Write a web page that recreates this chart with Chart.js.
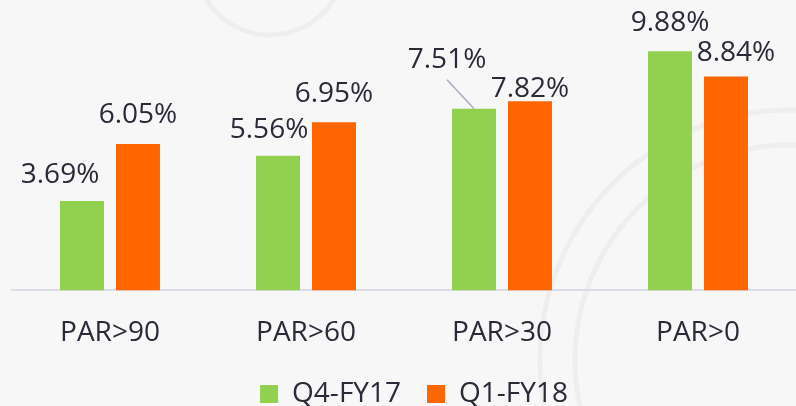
<!DOCTYPE html>
<html>
<head>
<meta charset="utf-8">
<script src="https://cdn.jsdelivr.net/npm/chart.js@4.4.1/dist/chart.umd.min.js"></script>
<style>
  html, body { margin: 0; padding: 0; background: #f7f7f7; }
  #wrap { width: 796px; height: 406px; position: relative; }
</style>
</head>
<body>
<div id="wrap"><canvas id="chart"></canvas></div>
<script>
const categories = ["PAR>90", "PAR>60", "PAR>30", "PAR>0"];
const seriesNames = ["Q4-FY17", "Q1-FY18"];
const q4fy17 = [3.69, 5.56, 7.51, 9.88];
const q1fy18 = [6.05, 6.95, 7.82, 8.84];

const TEXT = "#2a2a38";
const FONT = "'Open Sans', 'Noto Sans', sans-serif";

// faint slide watermark behind the bars
const watermark = {
  id: "watermark",
  beforeDraw(chart) {
    const ctx = chart.ctx;
    ctx.save();
    ctx.strokeStyle = "rgba(205, 210, 210, 0.22)";
    ctx.lineWidth = 5;
    [[790, 360, 250], [790, 360, 215], [270, -40, 75]].forEach(([cx, cy, r]) => {
      ctx.beginPath();
      ctx.arc(cx, cy, r, 0, Math.PI * 2);
      ctx.stroke();
    });
    ctx.restore();
  }
};

// nudge the legend a little right, the slide's legend isn't quite centred
const legendNudge = {
  id: "legendNudge",
  afterLayout(chart) {
    if (!chart.legend) return;
    chart.legend.left += 10;
    chart.legend.right += 10;
  }
};

// value labels, placed by hand like the original slide (dx from bar centre, gap above bar top)
const valueLabels = {
  id: "valueLabels",
  afterDatasetsDraw(chart, args, opts) {
    const ctx = chart.ctx;
    ctx.save();
    ctx.font = `28px ${FONT}`;
    ctx.fillStyle = TEXT;
    ctx.textAlign = "center";
    ctx.textBaseline = "alphabetic";
    chart.data.datasets.forEach((ds, di) => {
      const meta = chart.getDatasetMeta(di);
      meta.data.forEach((bar, i) => {
        const [dx, gap] = opts.shift[di][i];
        const tx = bar.x + dx;
        const ty = bar.y - gap;
        ctx.fillText(ds.data[i].toFixed(2) + "%", tx, ty);
        if (opts.leader[di] && opts.leader[di][i]) {
          ctx.strokeStyle = "#a9a9c2";
          ctx.lineWidth = 1.5;
          ctx.beginPath();
          ctx.moveTo(tx, ty + 12);
          ctx.lineTo(bar.x, bar.y);
          ctx.stroke();
        }
      });
    });
    ctx.restore();
  }
};

new Chart(document.getElementById("chart"), {
  type: "bar",
  data: {
    labels: categories,
    datasets: [
      { label: seriesNames[0], data: q4fy17, backgroundColor: "#92d050" },
      { label: seriesNames[1], data: q1fy18, backgroundColor: "#ff6600" }
    ]
  },
  options: {
    responsive: true,
    maintainAspectRatio: false,
    animation: false,
    layout: { padding: { left: 12, right: 0, top: 0, bottom: -12 } },
    datasets: { bar: { categoryPercentage: 0.571, barPercentage: 0.786 } },
    plugins: {
      tooltip: { enabled: false },
      legend: {
        position: "bottom",
        labels: {
          boxWidth: 18, boxHeight: 18, padding: 26,
          color: TEXT, font: { family: FONT, size: 28 }
        }
      },
      valueLabels: {
        shift: [
          [[-22, 18], [-9, 18], [-27, 41], [0, 20]],
          [[0, 21], [0, 20], [0, 4], [10, 15]]
        ],
        leader: [[false, false, true, false], [false, false, false, false]]
      }
    },
    scales: {
      x: {
        grid: { display: false, drawTicks: false },
        border: { display: true, color: "#dcdce4", width: 2 },
        ticks: { color: TEXT, font: { family: FONT, size: 28 }, padding: 26 },
        afterFit(scale) { scale.height -= 22; }
      },
      y: {
        display: false,
        min: 0, max: 12
      }
    }
  },
  plugins: [watermark, legendNudge, valueLabels]
});
</script>
</body>
</html>
